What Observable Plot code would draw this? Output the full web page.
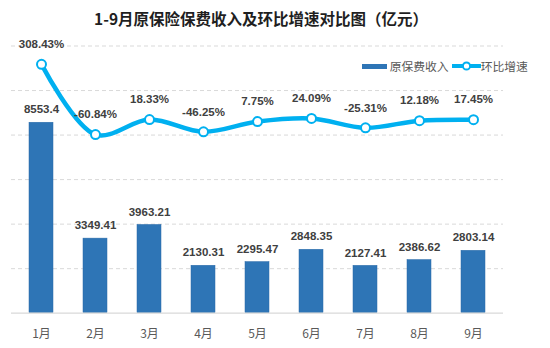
<!DOCTYPE html>
<html>
<head>
<meta charset="utf-8">
<script src="https://cdn.jsdelivr.net/npm/d3@7"></script>
<script src="https://cdn.jsdelivr.net/npm/@observablehq/plot@0.6"></script>
<style>
  body { margin: 0; background: #fff; }
  #wrap { position: relative; width: 550px; height: 348px; font-family: "Noto Sans CJK SC", "Noto Sans", sans-serif; }
  #title { height: 34px; line-height: 36px; font-size: 15.5px; font-weight: bold; color: #1f1f1f; padding-left: 94px; white-space: nowrap; }
  #legend { position: absolute; top: 57px; left: 362px; font-size: 11.8px; color: #595959; display: flex; align-items: center; white-space: nowrap; }
  #legend span { display: inline-flex; align-items: center; }
</style>
</head>
<body>
<div id="wrap">
  <div id="title">1-9月原保险保费收入及环比增速对比图（亿元）</div>
  <div id="legend">
    <span><svg width="25" height="8"><rect x="0" y="2" width="25" height="5" fill="#2e75b6"></rect></svg>&nbsp;原保费收入</span>
    <span style="margin-left:3px"><svg width="29" height="12"><line x1="0" y1="6" x2="29" y2="6" stroke="#00b0f0" stroke-width="4"></line><circle cx="14.5" cy="6" r="3.6" fill="#fff" stroke="#00b0f0" stroke-width="2"></circle></svg>环比增速</span>
  </div>
  <div id="chart"></div>
</div>
<script>
const months = ["1月","2月","3月","4月","5月","6月","7月","8月","9月"];
const premium = [8553.4, 3349.41, 3963.21, 2130.31, 2295.47, 2848.35, 2127.41, 2386.62, 2803.14];
const premiumLabels = ["8553.4","3349.41","3963.21","2130.31","2295.47","2848.35","2127.41","2386.62","2803.14"];
const growth = [308.43, -60.84, 18.33, -46.25, 7.75, 24.09, -25.31, 12.18, 17.45];
const growthLabels = ["308.43%","-60.84%","18.33%","-46.25%","7.75%","24.09%","-25.31%","12.18%","17.45%"];
const leftTicks = [0, 2000, 4000, 6000, 8000, 10000, 12000];
const leftDomain = [0, 12000];
const rightDomain = [-1000, 405];

const toLeft = v => (v - rightDomain[0]) / (rightDomain[1] - rightDomain[0]) * (leftDomain[1] - leftDomain[0]) + leftDomain[0];

const bars = months.map((m, i) => ({month: m, value: premium[i], label: premiumLabels[i]}));
const line = months.map((m, i) => ({month: m, value: toLeft(growth[i]), label: growthLabels[i]}));

const labelFont = "Liberation Sans, Arial, sans-serif";

const chart = Plot.plot({
  width: 550,
  height: 314,
  marginLeft: 11,
  marginRight: 47,
  marginTop: 11.5,
  marginBottom: 35.3,
  x: {domain: months, paddingInner: 0.55, paddingOuter: 0.275, label: null},
  y: {domain: leftDomain, axis: null},
  marks: [
    Plot.ruleY(leftTicks.filter(t => t > 0), {stroke: "#d9d9d9", strokeDasharray: "4,3", strokeWidth: 1}),
    Plot.barY(bars, {x: "month", y: "value", fill: "#2e75b6", stroke: "#2a6aa8", strokeWidth: 0.5}),
    Plot.ruleY([0], {stroke: "#d9d9d9", strokeWidth: 1.2}),
    Plot.text(bars, {x: "month", y: "value", text: "label", dy: -13, fontSize: 11.5, fontWeight: "bold", fill: "#404040", fontFamily: labelFont}),
    Plot.line(line, {x: "month", y: "value", stroke: "#00b0f0", strokeWidth: 4.5, curve: "catmull-rom"}),
    Plot.dot(line, {x: "month", y: "value", r: 4.5, fill: "#fff", stroke: "#00b0f0", strokeWidth: 2}),
    Plot.text(line, {x: "month", y: "value", text: "label", dy: -20, fontSize: 11.5, fontWeight: "bold", fill: "#404040", fontFamily: labelFont}),
    Plot.axisX({tickSize: 0, tickPadding: 16, fontSize: 12, fill: "#595959", label: null, fontFamily: "Noto Sans CJK SC, sans-serif"})
  ]
});
document.getElementById("chart").appendChild(chart);
</script>
</body>
</html>
